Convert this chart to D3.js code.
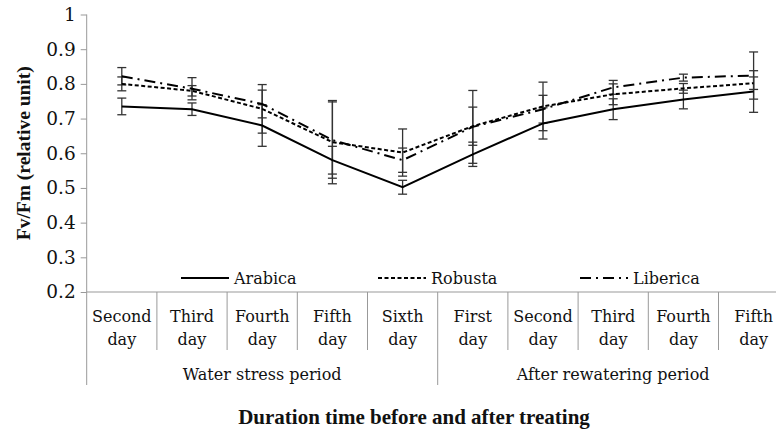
<!DOCTYPE html>
<html>
<head>
<meta charset="utf-8">
<script src="https://cdn.jsdelivr.net/npm/d3@7"></script>
<style>
  body { margin: 0; background: #fff; }
  text { font-family: "DejaVu Serif", serif; fill: #111; }
  .title { font-family: "Liberation Serif", serif; font-weight: bold; }
</style>
</head>
<body>
<div class="chart"></div>
<script>
var svgWidth = 776;
var svgHeight = 433;

// day labels along the x axis, and the two periods they belong to
var dayLines1 = ["Second", "Third", "Fourth", "Fifth", "Sixth", "First", "Second", "Third", "Fourth", "Fifth"];
var dayLines2 = ["day", "day", "day", "day", "day", "day", "day", "day", "day", "day"];
var periods = ["Water stress period", "After rewatering period"];
var periodSizes = [5, 5];

var yTicks = [0.2, 0.3, 0.4, 0.5, 0.6, 0.7, 0.8, 0.9, 1];

var seriesNames = ["Arabica", "Robusta", "Liberica"];
var arabica = [0.735, 0.727, 0.68, 0.58, 0.502, 0.597, 0.686, 0.727, 0.755, 0.778];
var arabicaErr = [0.024, 0.018, 0.06, 0.04, 0.02, 0.035, 0.045, 0.03, 0.027, 0.06];
var robusta = [0.80, 0.78, 0.728, 0.632, 0.602, 0.678, 0.735, 0.77, 0.787, 0.802];
var robustaErr = [0.02, 0.015, 0.07, 0.12, 0.068, 0.055, 0.07, 0.03, 0.014, 0.018];
var liberica = [0.822, 0.786, 0.742, 0.638, 0.58, 0.676, 0.727, 0.79, 0.818, 0.824];
var libericaErr = [0.025, 0.032, 0.04, 0.11, 0.035, 0.105, 0.04, 0.02, 0.01, 0.068];

var series = [
  { name: seriesNames[0], values: arabica, errs: arabicaErr, dash: null },
  { name: seriesNames[1], values: robusta, errs: robustaErr, dash: "4,2.5" },
  { name: seriesNames[2], values: liberica, errs: libericaErr, dash: "11,5,2,5" }
];

var plotLeft = 86.7, plotTop = 14.5, plotBottom = 292;
var step = 70.2;

var svg = d3.select(".chart").append("svg")
  .attr("width", svgWidth)
  .attr("height", svgHeight);

var idx = d3.range(dayLines1.length);
var x = d3.scaleBand().domain(idx).range([plotLeft, plotLeft + step * idx.length]).padding(0);
var y = d3.scaleLinear().domain([0.2, 1]).range([plotBottom, plotTop]);

// y axis
var yAxis = svg.append("g")
  .attr("transform", `translate(${plotLeft},0)`)
  .call(d3.axisLeft(y).tickValues(yTicks).tickSize(6).tickPadding(5).tickFormat(d3.format("")));
yAxis.select(".domain").remove();
yAxis.selectAll("line").attr("stroke", "#999");
yAxis.selectAll("text").style("font-size", "18.5px").attr("fill", "#111");
svg.append("line")
  .attr("x1", plotLeft).attr("x2", plotLeft)
  .attr("y1", plotTop).attr("y2", 385)
  .attr("stroke", "#999");

// x axis line and category dividers
svg.append("line")
  .attr("x1", plotLeft).attr("x2", x.range()[1])
  .attr("y1", plotBottom).attr("y2", plotBottom)
  .attr("stroke", "#999");

var boundaries = d3.cumsum(periodSizes);
svg.selectAll(".divider")
  .data(idx)
  .enter().append("line")
  .attr("x1", d => x(d) + x.bandwidth())
  .attr("x2", d => x(d) + x.bandwidth())
  .attr("y1", plotBottom)
  .attr("y2", d => boundaries.includes(d + 1) ? 385 : 350)
  .attr("stroke", "#999");

svg.selectAll(".day1")
  .data(idx)
  .enter().append("text")
  .attr("x", d => x(d) + x.bandwidth() / 2)
  .attr("y", 322)
  .attr("text-anchor", "middle")
  .style("font-size", "16px")
  .text(d => dayLines1[d]);

svg.selectAll(".day2")
  .data(idx)
  .enter().append("text")
  .attr("x", d => x(d) + x.bandwidth() / 2)
  .attr("y", 345)
  .attr("text-anchor", "middle")
  .style("font-size", "16px")
  .text(d => dayLines2[d]);

svg.selectAll(".period")
  .data(periods)
  .enter().append("text")
  .attr("x", (d, i) => {
    var start = i === 0 ? 0 : boundaries[i - 1];
    return (x(start) + x(boundaries[i] - 1) + x.bandwidth()) / 2;
  })
  .attr("y", 380)
  .attr("text-anchor", "middle")
  .style("font-size", "16px")
  .text(d => d);

// error bars
var cx = d => x(d) + x.bandwidth() / 2;
series.forEach(function(s) {
  var g = svg.append("g").attr("stroke", "#333").attr("stroke-width", 1.3);
  idx.forEach(function(i) {
    var hi = y(s.values[i] + s.errs[i]);
    var lo = y(s.values[i] - s.errs[i]);
    g.append("line").attr("x1", cx(i)).attr("x2", cx(i)).attr("y1", hi).attr("y2", lo);
    g.append("line").attr("x1", cx(i) - 4.5).attr("x2", cx(i) + 4.5).attr("y1", hi).attr("y2", hi);
    g.append("line").attr("x1", cx(i) - 4.5).attr("x2", cx(i) + 4.5).attr("y1", lo).attr("y2", lo);
  });
});

// lines
var line = d3.line().x(d => cx(d[0])).y(d => y(d[1]));
series.forEach(function(s) {
  svg.append("path")
    .datum(idx.map(i => [i, s.values[i]]))
    .attr("fill", "none")
    .attr("stroke", "#000")
    .attr("stroke-width", 2)
    .attr("stroke-dasharray", s.dash)
    .attr("d", line);
});

// legend
var legendX = [181, 378, 580];
series.forEach(function(s, i) {
  svg.append("line")
    .attr("x1", legendX[i]).attr("x2", legendX[i] + 48)
    .attr("y1", 278).attr("y2", 278)
    .attr("stroke", "#000")
    .attr("stroke-width", 2)
    .attr("stroke-dasharray", s.dash);
  svg.append("text")
    .attr("x", legendX[i] + 53)
    .attr("y", 284)
    .style("font-size", "16px")
    .text(s.name);
});

// axis titles
svg.append("text")
  .attr("class", "title")
  .attr("transform", `translate(30,${(plotTop + plotBottom) / 2}) rotate(-90)`)
  .attr("text-anchor", "middle")
  .style("font-size", "19.5px")
  .text("Fv/Fm (relative unit)");

svg.append("text")
  .attr("class", "title")
  .attr("x", 414)
  .attr("y", 424)
  .attr("text-anchor", "middle")
  .style("font-size", "21px")
  .text("Duration time before and after treating");
</script>
</body>
</html>
